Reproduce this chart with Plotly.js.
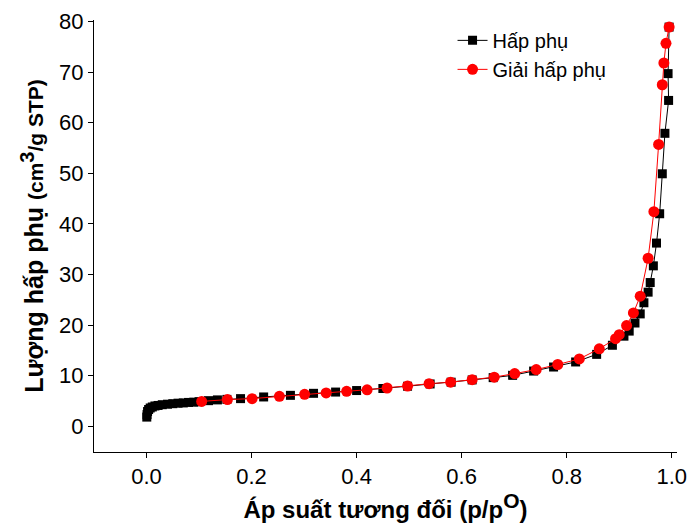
<!DOCTYPE html>
<html>
<head>
<meta charset="utf-8">
<script src="https://cdn.plot.ly/plotly-3.0.1.min.js"></script>
<style>html,body{margin:0;padding:0;background:#fff;}</style>
</head>
<body>
<div id="chart" style="width:689px;height:525px;"></div>
<script>
// Adsorption branch (Hấp phụ)
const adsX = [0.0005, 0.001, 0.002, 0.004, 0.007, 0.011, 0.016, 0.022, 0.03, 0.04, 0.05, 0.06, 0.07, 0.08, 0.09, 0.1, 0.118, 0.135, 0.153, 0.179, 0.223, 0.274, 0.318, 0.36, 0.4, 0.45, 0.497, 0.54, 0.58, 0.62, 0.66, 0.697, 0.737, 0.775, 0.817, 0.857, 0.887, 0.909, 0.919, 0.93, 0.94, 0.947, 0.955, 0.959, 0.965, 0.971, 0.977, 0.982, 0.987, 0.994, 0.993, 0.995];
const adsY = [1.8, 2.3, 2.9, 3.3, 3.6, 3.8, 4.0, 4.1, 4.25, 4.35, 4.45, 4.55, 4.6, 4.7, 4.75, 4.85, 5.05, 5.2, 5.3, 5.45, 5.78, 6.1, 6.5, 6.75, 7.05, 7.45, 7.9, 8.35, 8.7, 9.15, 9.6, 10.05, 10.9, 11.7, 12.7, 14.2, 16.0, 17.8, 18.8, 20.4, 22.2, 24.4, 26.5, 28.4, 31.7, 36.2, 42.0, 49.9, 57.9, 64.4, 69.7, 78.9];
// Desorption branch (Giải hấp phụ)
const desX = [0.995, 0.989, 0.985, 0.982, 0.975, 0.966, 0.955, 0.94, 0.927, 0.914, 0.9, 0.893, 0.862, 0.824, 0.783, 0.742, 0.701, 0.662, 0.62, 0.579, 0.538, 0.497, 0.458, 0.42, 0.381, 0.342, 0.301, 0.253, 0.201, 0.154, 0.105];
const desY = [78.9, 75.7, 71.8, 67.5, 55.7, 42.4, 33.2, 25.7, 22.4, 19.9, 18.1, 17.3, 15.3, 13.3, 12.2, 11.2, 10.4, 9.7, 9.2, 8.7, 8.4, 7.95, 7.55, 7.2, 6.9, 6.57, 6.3, 5.9, 5.45, 5.26, 4.9];
const seriesNames = ["Hấp phụ", "Giải hấp phụ"];
const xTicks = [0, 0.2, 0.4, 0.6, 0.8, 1.0];
const xTickText = ["0.0", "0.2", "0.4", "0.6", "0.8", "1.0"];
const yTicks = [0, 10, 20, 30, 40, 50, 60, 70, 80];

const font = "Liberation Sans, Arial, sans-serif";
const traces = [
  {x: adsX, y: adsY, name: seriesNames[0], type: "scatter", mode: "lines+markers",
   line: {color: "#000", width: 1}, marker: {symbol: "square", size: 9, color: "#000"}},
  {x: desX, y: desY, name: seriesNames[1], type: "scatter", mode: "lines+markers",
   line: {color: "#ff0000", width: 1}, marker: {symbol: "circle", size: 11, color: "#ff0000"}}
];
const layout = {
  width: 689, height: 525,
  margin: {l: 94, r: 12, t: 20, b: 73},
  paper_bgcolor: "#fff", plot_bgcolor: "#fff",
  font: {family: font, color: "#000", size: 22},
  showlegend: true,
  legend: {x: 0.615, y: 0.998, xanchor: "left", yanchor: "top", bgcolor: "rgba(0,0,0,0)",
           font: {family: font, size: 20, color: "#000"}, tracegroupgap: 0},
  xaxis: {
    range: [-0.1, 1.01], showgrid: false, zeroline: false,
    showline: true, linecolor: "#000", linewidth: 1, mirror: false,
    ticks: "outside", ticklen: 5, tickcolor: "#000",
    tickvals: xTicks, ticktext: xTickText, tickfont: {size: 22},
    title: {text: "<b>Áp suất tương đối <span style='font-size:24px'>(p/p<sup><span style='font-size:21px'>O</span></sup>)</span></b>",
            font: {size: 24}, standoff: 8}
  },
  yaxis: {
    range: [-5.1, 80.3], showgrid: false, zeroline: false,
    showline: true, linecolor: "#000", linewidth: 1, mirror: false,
    ticks: "outside", ticklen: 5, tickcolor: "#000",
    tickvals: yTicks, tickfont: {size: 22},
    title: {text: "<b>Lượng hấp phụ <span style='font-size:21px'>(cm<sup><span style='font-size:20px'>3</span></sup>/g STP)</span></b>",
            font: {size: 25}, standoff: 8}
  }
};
Plotly.newPlot("chart", traces, layout, {displayModeBar: false, staticPlot: true});
</script>
</body>
</html>
